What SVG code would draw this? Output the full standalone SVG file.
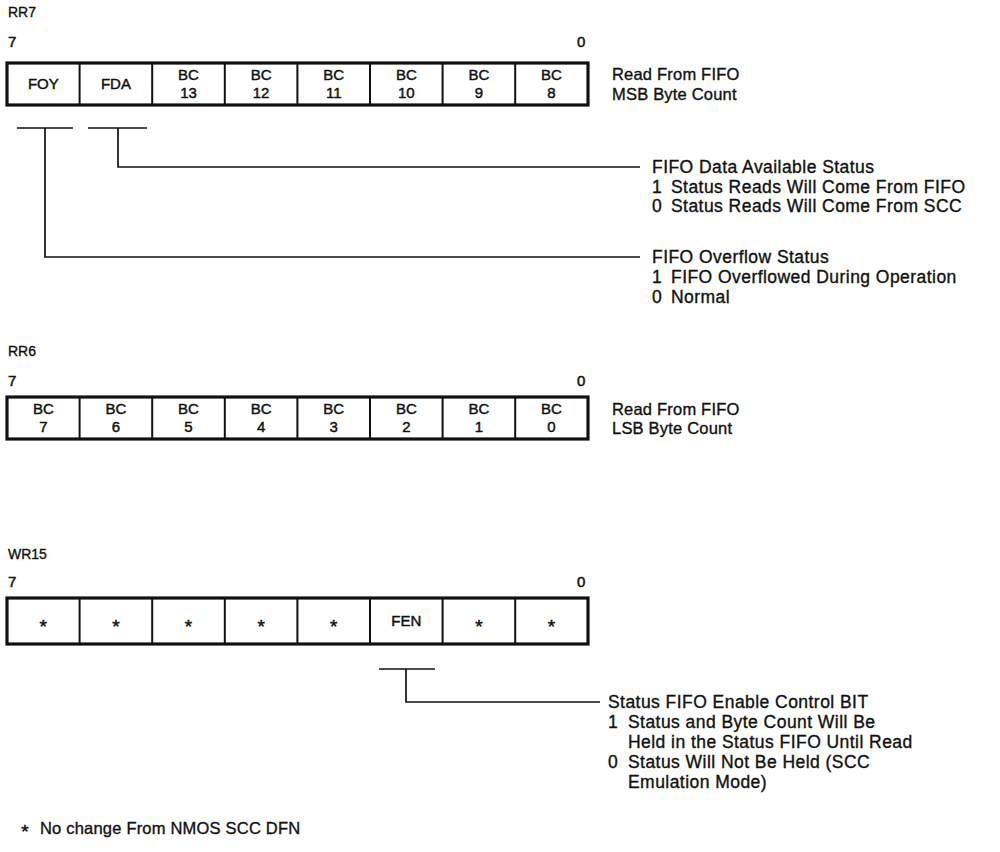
<svg xmlns="http://www.w3.org/2000/svg" width="1000" height="852" viewBox="0 0 1000 852">
<style>
text{font-family:"Liberation Sans",Arial,sans-serif;fill:#111;stroke:#111;stroke-width:0.35}
.lbl{font-size:14px}
.bit{font-size:15px;stroke-width:0.5}
.cell{font-size:15px;text-anchor:middle;stroke-width:0.45}
.star{font-size:19px;text-anchor:middle;stroke-width:0.5}
.desc{font-size:16.5px;letter-spacing:0.2px}
.note{font-size:17.5px;letter-spacing:0.45px}
.box{fill:#fff;stroke:#111;stroke-width:3.2}
.div{stroke:#111;stroke-width:2}
.ln{stroke:#111;stroke-width:1.7;fill:none}
</style>
<rect width="1000" height="852" fill="#fff"/>

<g id="rr7">
<text class="lbl" x="8" y="17">RR7</text>
<text class="bit" x="8" y="47">7</text>
<text class="bit" x="577" y="47">0</text>
<rect class="box" x="7" y="63" width="581" height="42"/>
<path class="div" d="M79.6 63V105M152.2 63V105M224.8 63V105M297.4 63V105M370 63V105M442.6 63V105M515.2 63V105"/>
<text class="cell" x="43.3" y="89">FOY</text>
<text class="cell" x="115.9" y="89">FDA</text>
<text class="cell" x="188.5" y="80">BC</text><text class="cell" x="188.5" y="98">13</text>
<text class="cell" x="261.1" y="80">BC</text><text class="cell" x="261.1" y="98">12</text>
<text class="cell" x="333.7" y="80">BC</text><text class="cell" x="333.7" y="98">11</text>
<text class="cell" x="406.3" y="80">BC</text><text class="cell" x="406.3" y="98">10</text>
<text class="cell" x="478.9" y="80">BC</text><text class="cell" x="478.9" y="98">9</text>
<text class="cell" x="551.5" y="80">BC</text><text class="cell" x="551.5" y="98">8</text>
<text class="desc" x="612" y="80">Read From FIFO</text>
<text class="desc" x="612" y="100">MSB Byte Count</text>
</g>

<g id="fda-desc">
<text class="note" x="652" y="173">FIFO Data Available Status</text>
<text class="note" x="652" y="193">1</text><text class="note" x="671" y="193">Status Reads Will Come From FIFO</text>
<text class="note" x="652" y="212">0</text><text class="note" x="671" y="212">Status Reads Will Come From SCC</text>
</g>

<g id="foy-desc">
<text class="note" x="652" y="263">FIFO Overflow Status</text>
<text class="note" x="652" y="283">1</text><text class="note" x="671" y="283">FIFO Overflowed During Operation</text>
<text class="note" x="652" y="303">0</text><text class="note" x="671" y="303">Normal</text>
</g>

<g id="rr6">
<text class="lbl" x="8" y="356">RR6</text>
<text class="bit" x="8" y="386">7</text>
<text class="bit" x="577" y="386">0</text>
<rect class="box" x="7" y="397" width="581" height="42"/>
<path class="div" d="M79.6 397V439M152.2 397V439M224.8 397V439M297.4 397V439M370 397V439M442.6 397V439M515.2 397V439"/>
<text class="cell" x="43.3" y="414">BC</text><text class="cell" x="43.3" y="432">7</text>
<text class="cell" x="115.9" y="414">BC</text><text class="cell" x="115.9" y="432">6</text>
<text class="cell" x="188.5" y="414">BC</text><text class="cell" x="188.5" y="432">5</text>
<text class="cell" x="261.1" y="414">BC</text><text class="cell" x="261.1" y="432">4</text>
<text class="cell" x="333.7" y="414">BC</text><text class="cell" x="333.7" y="432">3</text>
<text class="cell" x="406.3" y="414">BC</text><text class="cell" x="406.3" y="432">2</text>
<text class="cell" x="478.9" y="414">BC</text><text class="cell" x="478.9" y="432">1</text>
<text class="cell" x="551.5" y="414">BC</text><text class="cell" x="551.5" y="432">0</text>
<text class="desc" x="612" y="415">Read From FIFO</text>
<text class="desc" x="612" y="434">LSB Byte Count</text>
</g>

<g id="wr15">
<text class="lbl" x="8" y="559">WR15</text>
<text class="bit" x="8" y="587">7</text>
<text class="bit" x="577" y="587">0</text>
<rect class="box" x="7" y="598" width="581" height="46"/>
<path class="div" d="M79.6 598V644M152.2 598V644M224.8 598V644M297.4 598V644M370 598V644M442.6 598V644M515.2 598V644"/>
<text class="star" x="43.3" y="633">*</text>
<text class="star" x="115.9" y="633">*</text>
<text class="star" x="188.5" y="633">*</text>
<text class="star" x="261.1" y="633">*</text>
<text class="star" x="333.7" y="633">*</text>
<text class="cell" x="406.3" y="626">FEN</text>
<text class="star" x="478.9" y="633">*</text>
<text class="star" x="551.5" y="633">*</text>
</g>

<g id="fen-desc">
<text class="note" x="608" y="708">Status FIFO Enable Control BIT</text>
<text class="note" x="608" y="728">1</text><text class="note" x="628" y="728">Status and Byte Count Will Be</text>
<text class="note" x="628" y="748">Held in the Status FIFO Until Read</text>
<text class="note" x="608" y="768">0</text><text class="note" x="628" y="768">Status Will Not Be Held (SCC</text>
<text class="note" x="628" y="788">Emulation Mode)</text>
</g>

<g id="footnote">
<text class="star" x="25" y="838">*</text>
<text class="desc" x="40" y="834">No change From NMOS SCC DFN</text>
</g>

<g id="connectors">
<path class="ln" d="M17 128H73M45 128V257H640"/>
<path class="ln" d="M88 128H147M118 128V167H640"/>
<path class="ln" d="M379 669H435M406 669V702H600"/>
</g>
</svg>
